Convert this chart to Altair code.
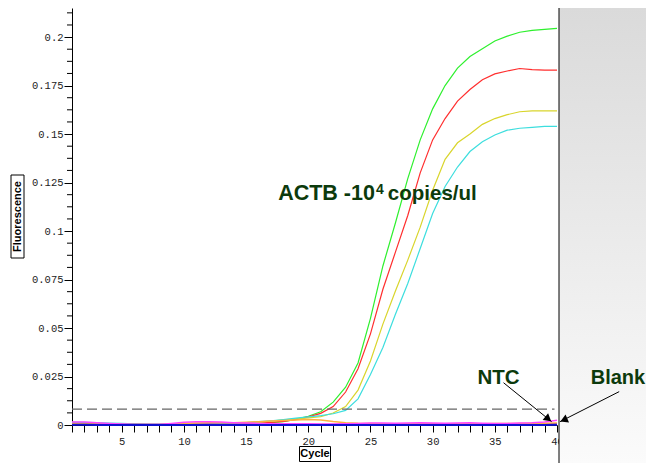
import altair as alt
import pandas as pd

cycles = list(range(1, 41))

actb_green = [0.0012, 0.0010, 0.0009, 0.0007, 0.0005, 0.0003, 0.0002, 0.0002, 0.0002, 0.0003,
              0.0003, 0.0003, 0.0004, 0.0005, 0.0007, 0.0009, 0.0012, 0.0017, 0.0030, 0.0045,
              0.0068, 0.0118, 0.0195, 0.0320, 0.0550, 0.0820, 0.1040, 0.1270, 0.1470, 0.1630,
              0.1750, 0.1840, 0.1900, 0.1940, 0.1980, 0.2005, 0.2025, 0.2035, 0.2040, 0.2045]
actb_red = [0.0010, 0.0008, 0.0006, 0.0005, 0.0004, 0.0003, 0.0002, 0.0002, 0.0003, 0.0003,
            0.0004, 0.0004, 0.0005, 0.0006, 0.0008, 0.0010, 0.0014, 0.0019, 0.0028, 0.0042,
            0.0060, 0.0095, 0.0170, 0.0290, 0.0470, 0.0700, 0.0890, 0.1080, 0.1300, 0.1470,
            0.1580, 0.1670, 0.1730, 0.1780, 0.1810, 0.1825, 0.1838, 0.1832, 0.1830, 0.1830]
actb_yellow = [0.0008, 0.0007, 0.0006, 0.0005, 0.0004, 0.0003, 0.0003, 0.0002, 0.0002, 0.0003,
               0.0004, 0.0005, 0.0006, 0.0008, 0.0011, 0.0015, 0.0020, 0.0026, 0.0032, 0.0037,
               0.0043, 0.0062, 0.0095, 0.0180, 0.0330, 0.0520, 0.0690, 0.0850, 0.1020, 0.1210,
               0.1370, 0.1455, 0.1500, 0.1550, 0.1580, 0.1600, 0.1615, 0.1620, 0.1620, 0.1620]
actb_cyan = [0.0015, 0.0014, 0.0012, 0.0010, 0.0008, 0.0006, 0.0005, 0.0004, 0.0004, 0.0004,
             0.0005, 0.0006, 0.0008, 0.0010, 0.0013, 0.0017, 0.0022, 0.0028, 0.0035, 0.0042,
             0.0048, 0.0058, 0.0075, 0.0135, 0.0260, 0.0400, 0.0570, 0.0730, 0.0910, 0.1090,
             0.1230, 0.1330, 0.1410, 0.1460, 0.1495, 0.1520, 0.1530, 0.1535, 0.1540, 0.1540]

ntc_magenta = [0.0016, 0.0015, 0.0012, 0.0008, 0.0005, 0.0003, 0.0002, 0.0003, 0.0008, 0.0014,
               0.0017, 0.0017, 0.0015, 0.0012, 0.0010, 0.0008, 0.0007, 0.0006, 0.0006, 0.0006,
               0.0005, 0.0005, 0.0006, 0.0008, 0.0010, 0.0010, 0.0009, 0.0010, 0.0011, 0.0010,
               0.0009, 0.0010, 0.0011, 0.0009, 0.0008, 0.0008, 0.0010, 0.0012, 0.0016, 0.0024]
ntc_orange = [0.0006, 0.0005, 0.0004, 0.0003, 0.0002, 0.0002, 0.0002, 0.0003, 0.0005, 0.0008,
              0.0010, 0.0011, 0.0011, 0.0012, 0.0014, 0.0017, 0.0020, 0.0023, 0.0026, 0.0028,
              0.0026, 0.0018, 0.0012, 0.0009, 0.0008, 0.0007, 0.0006, 0.0006, 0.0006, 0.0005,
              0.0005, 0.0006, 0.0006, 0.0007, 0.0008, 0.0008, 0.0008, 0.0009, 0.0009, 0.0010]
ntc_purple = [0.0004, 0.0004, 0.0003, 0.0003, 0.0002, 0.0002, 0.0002, 0.0002, 0.0003, 0.0004,
              0.0005, 0.0005, 0.0004, 0.0004, 0.0003, 0.0003, 0.0003, 0.0003, 0.0003, 0.0003,
              0.0003, 0.0003, 0.0004, 0.0004, 0.0004, 0.0005, 0.0005, 0.0005, 0.0006, 0.0006,
              0.0006, 0.0005, 0.0005, 0.0005, 0.0004, 0.0004, 0.0005, 0.0005, 0.0006, 0.0006]
blank_blue = [0.0001, 0.0001, 0.0000, 0.0000, 0.0000, 0.0000, 0.0000, 0.0000, 0.0000, 0.0000,
              0.0000, 0.0000, 0.0000, 0.0000, 0.0000, 0.0000, 0.0000, 0.0000, 0.0000, 0.0000,
              0.0000, 0.0000, 0.0000, 0.0000, 0.0000, 0.0000, 0.0000, 0.0000, 0.0000, 0.0000,
              0.0000, 0.0000, 0.0000, 0.0000, 0.0000, 0.0000, 0.0000, 0.0000, 0.0000, 0.0001]

threshold = 0.0082
y_major = [0, 0.025, 0.05, 0.075, 0.1, 0.125, 0.15, 0.175, 0.2]
y_minor = [0.00625, 0.0125, 0.01875, 0.03125, 0.0375, 0.04375, 0.05625, 0.0625, 0.06875,
           0.08125, 0.0875, 0.09375, 0.10625, 0.1125, 0.11875, 0.13125, 0.1375, 0.14375,
           0.15625, 0.1625, 0.16875, 0.18125, 0.1875, 0.19375, 0.20625, 0.2125]

samples = {"ACTB-1": actb_green, "ACTB-2": actb_red, "ACTB-3": actb_yellow, "ACTB-4": actb_cyan}
sample_colors = ["#2ef02e", "#ff2e2e", "#d9d52c", "#3ddede"]
lows = {"NTC-1": ntc_purple, "NTC-2": ntc_orange, "NTC-3": ntc_magenta}
low_colors = ["#8a1ee0", "#ffb040", "#ff44ff"]


def long(d):
    rows = []
    for name, vals in d.items():
        for c, v in zip(cycles, vals):
            rows.append({"cycle": c, "fluor": v, "kind": name})
    return pd.DataFrame(rows)


xs = alt.Scale(domain=[1, 40], nice=False, zero=False)
ys = alt.Scale(domain=[0, 0.215], nice=False, zero=False)
one = pd.DataFrame({"a": [0]})


def X(field):
    return alt.X(field, scale=xs)


def Y(field):
    return alt.Y(field, scale=ys)


# main sample curves carry the axes
main = alt.Chart(long(samples)).mark_line(strokeWidth=1.2).encode(
    x=alt.X("cycle:Q", scale=xs,
            axis=alt.Axis(values=cycles, tickCount=80, format="d",
                          labelExpr="datum.value % 5 == 0 ? datum.label : ''",
                          title=None, tickSize=7, tickColor="black", domainColor="black",
                          labelFont="Liberation Mono", labelFontSize=10.5, labelColor="#222",
                          labelPadding=4, grid=False, labelFlush=False, labelOverlap=False,
                          labelBound=False, zindex=0)),
    y=alt.Y("fluor:Q", scale=ys,
            axis=alt.Axis(values=y_major, tickCount=20, title=None, tickSize=8,
                          tickColor="black", domainColor="black", labelFont="Liberation Mono",
                          labelFontSize=10.5, labelColor="#222", labelPadding=1, grid=False,
                          format=".3~f", labelOverlap=False, labelFlush=False, zindex=0)),
    color=alt.Color("kind:N", scale=alt.Scale(domain=list(samples), range=sample_colors),
                    legend=None),
)

# gray side background and panel border
side = alt.Chart(one).mark_rect(
    fill=alt.LinearGradient(gradient="linear",
                            stops=[alt.GradientStop(color="#dadada", offset=0),
                                   alt.GradientStop(color="#fbfbfb", offset=1)],
                            x1=0, x2=0, y1=0, y2=1)
).encode(x=alt.value(487), x2=alt.value(574), y=alt.value(0), y2=alt.value(455))
border = alt.Chart(one).mark_rule(color="black", strokeWidth=1).encode(
    x=alt.value(487), y=alt.value(0), y2=alt.value(455))

low = alt.Chart(long(lows)).mark_line(strokeWidth=1.5).encode(
    x=X("cycle:Q"), y=Y("fluor:Q"),
    stroke=alt.Stroke("kind:N", scale=alt.Scale(domain=list(lows), range=low_colors),
                      legend=None),
)
blue = alt.Chart(pd.DataFrame({"cycle": cycles, "fluor": blank_blue})).mark_line(
    strokeWidth=2, color="#1010d0").encode(x=X("cycle:Q"), y=Y("fluor:Q"))

minor = alt.Chart(pd.DataFrame({"fluor": y_minor})).mark_rule(color="black").encode(
    x=alt.value(-5), x2=alt.value(0), y=Y("fluor:Q"))

thr = alt.Chart(pd.DataFrame({"cycle": [1], "c2": [39.8], "fluor": [threshold]})).mark_rule(
    color="#666", strokeWidth=1.4, strokeDash=[10, 5]).encode(
    x=X("cycle:Q"), x2="c2:Q", y=Y("fluor:Q"))


def label(text, c, f, size, align="left"):
    return alt.Chart(pd.DataFrame({"cycle": [c], "fluor": [f], "t": [text]})).mark_text(
        font="Liberation Sans", fontWeight="bold", fontSize=size, color="#0c3a0c",
        align=align, baseline="alphabetic").encode(
        x=X("cycle:Q"), y=Y("fluor:Q"), text="t:N")


texts = [
    label("ACTB -10", 25.36, 0.116, 21.5, "right"),
    label("4", 25.44, 0.1191, 14),
    label("copies/ul", 26.4, 0.116, 20.5),
    label("NTC", 35.3, 0.021, 20.5, "center"),
    label("Blank", 44.9, 0.021, 20, "center"),
]

arrows = pd.DataFrame({"cycle": [35.7, 45.0], "fluor": [0.0218, 0.0172],
                       "c2": [39.57, 40.24], "f2": [0.0017, 0.0017]})
arrow_lines = alt.Chart(arrows).mark_rule(color="black", strokeWidth=1).encode(
    x=X("cycle:Q"), y=Y("fluor:Q"), x2="c2:Q", y2="f2:Q")
heads = pd.DataFrame({"cycle": [39.3, 40.55], "fluor": [0.0031, 0.0026], "ang": [129, 246]})
arrow_heads = alt.Chart(heads).mark_point(shape="triangle-up", filled=True, color="black",
                                          size=75, opacity=1).encode(
    x=X("cycle:Q"), y=Y("fluor:Q"), angle=alt.Angle("ang:Q", scale=None))

ybox = alt.Chart(one).mark_rect(fill="white", stroke="black", strokeWidth=1).encode(
    x=alt.value(-61), x2=alt.value(-48), y=alt.value(167), y2=alt.value(250))
ytitle = alt.Chart(one).mark_text(text="Fluorescence", angle=270, font="Liberation Sans",
                                  fontWeight="bold", fontSize=11, color="black",
                                  align="center", baseline="middle").encode(
    x=alt.value(-54.5), y=alt.value(208.5))
xbox = alt.Chart(one).mark_rect(fill="white", stroke="black", strokeWidth=1).encode(
    x=alt.value(227.5), x2=alt.value(258.5), y=alt.value(438.5), y2=alt.value(453.5))
xtitle = alt.Chart(one).mark_text(text="Cycle", font="Liberation Sans", fontWeight="bold",
                                  fontSize=11, color="black", align="center",
                                  baseline="middle").encode(x=alt.value(243), y=alt.value(446))

chart = alt.layer(
    main, minor, thr, low, blue, side, border, *texts, arrow_lines, arrow_heads,
    ybox, ytitle, xbox, xtitle
).resolve_scale(color="independent", stroke="independent").properties(
    width=485, height=417,
    autosize=alt.AutoSizeParams(type="none"),
    padding={"left": 64, "top": 0, "right": 89, "bottom": 38},
    background="white",
).configure_view(stroke=None)

chart.save("out.html", embed_options={"renderer": "svg", "actions": False})
